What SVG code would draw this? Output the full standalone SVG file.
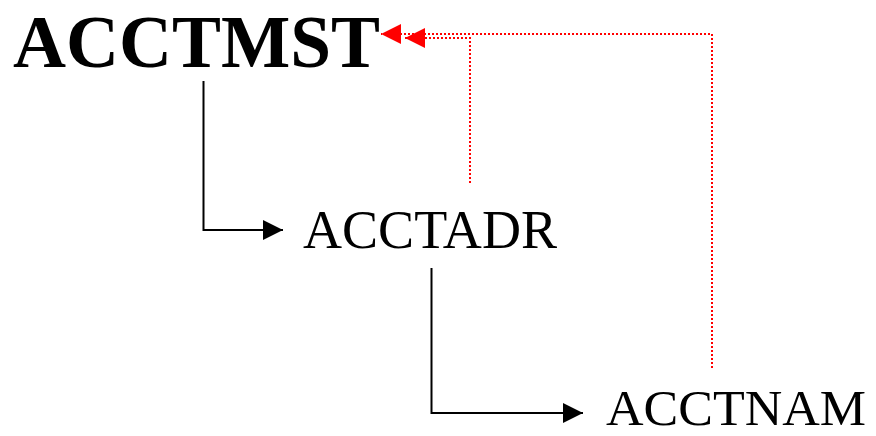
<svg xmlns="http://www.w3.org/2000/svg" width="876" height="436" viewBox="0 0 876 436">
<style>
.t{font-family:"Liberation Serif","Times New Roman",serif;fill:#000}
.b{stroke:#000;stroke-width:2;fill:none}
.r{stroke:#f00;stroke-width:2;stroke-dasharray:2 2;fill:none}
</style>
<defs>
<marker id="ab" markerUnits="userSpaceOnUse" markerWidth="20" markerHeight="20" refX="20" refY="10" orient="auto"><path d="M0,0L20,10L0,20Z" fill="#000"/></marker>
<marker id="ar" markerUnits="userSpaceOnUse" markerWidth="20" markerHeight="20" refX="20" refY="10" orient="auto"><path d="M0,0L20,10L0,20Z" fill="#f00"/></marker>
</defs>
<rect width="876" height="436" fill="#fff"/>
<g id="edges">
<path class="b" d="M203.5,81V230H283" marker-end="url(#ab)"/>
<path class="b" d="M431.5,268V413H583" marker-end="url(#ab)"/>
<path class="r" d="M470,183V38H405" marker-end="url(#ar)"/>
<path class="r" d="M712,368V34H381" marker-end="url(#ar)"/>
</g>
<g id="ACCTMST"><text class="t" x="13" y="67" font-size="74" font-weight="bold" textLength="367" lengthAdjust="spacingAndGlyphs">ACCTMST</text></g>
<g id="ACCTADR"><text class="t" x="303" y="248" font-size="54" textLength="254" lengthAdjust="spacingAndGlyphs">ACCTADR</text></g>
<g id="ACCTNAM"><text class="t" x="606" y="425" font-size="50" textLength="260" lengthAdjust="spacingAndGlyphs">ACCTNAM</text></g>
</svg>
